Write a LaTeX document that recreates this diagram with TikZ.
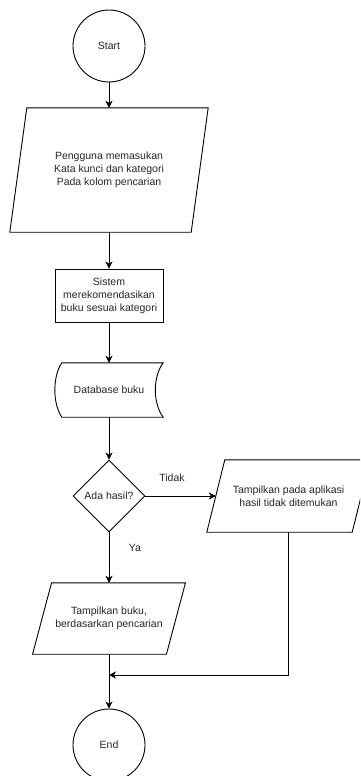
\documentclass[tikz,border=0pt]{standalone}
\usepackage{fontspec}
\setmainfont{Liberation Sans}
\usetikzlibrary{shapes.geometric,arrows.meta,calc}
\newcommand\paraoutline[2]{%
  \draw[line] ($(#1.north west)+(#2,0)$) -- ($(#1.north east)+(#2,0)$) -- ($(#1.south east)+(-#2,0)$) -- ($(#1.south west)+(-#2,0)$) -- cycle;}
\begin{document}
\begin{tikzpicture}[x=1pt,y=-1pt,
  every node/.style={font=\fontsize{10.5}{13}\selectfont, text=black!85},
  line/.style={draw=black, line width=0.9pt},
  arr/.style={line, -{Stealth[length=7pt,width=7pt,inset=2pt]}},
  term/.style={circle, line, minimum size=72pt, inner sep=0pt},
  area/.style={rectangle, inner sep=0pt, align=center},
  proc/.style={rectangle, line, inner sep=0pt, align=center, minimum width=108pt, minimum height=53pt},
  dec/.style={diamond, line, aspect=1, minimum size=72pt, inner sep=0pt},
  lbl/.style={inner sep=0pt}
]
\clip (0,0) rectangle (360,776);
\fill[white] (0,0) rectangle (360,776);

\node[term] (start) at (109,46) {Start};

\node[area, minimum width=181pt, minimum height=124pt] (input) at (109,170) {Pengguna memasukan\\Kata kunci dan kategori\\Pada kolom pencarian};
\paraoutline{input}{8.5}

\node[proc] (sys) at (109,295.5) {Sistem\\merekomendasikan\\buku sesuai kategori};

\node[area, minimum width=108pt, minimum height=54pt] (db) at (109,390) {Database buku};
\draw[line] ($(db.north west)+(7,0)$) -- (db.north east)
  .. controls ($(db.north east)+(-10.5,14)$) and ($(db.south east)+(-10.5,-14)$) .. (db.south east)
  -- ($(db.south west)+(7,0)$)
  .. controls ($(db.south west)+(-2.3,-14)$) and ($(db.north west)+(-2.3,14)$) .. ($(db.north west)+(7,0)$) -- cycle;

\node[dec] (dec) at (109,496) {Ada hasil?};

\node[area, minimum width=145pt, minimum height=72pt] (no) at (288.5,496) {Tampilkan pada aplikasi\\hasil tidak ditemukan};
\paraoutline{no}{9}

\node[area, minimum width=133.5pt, minimum height=71pt] (out) at (109,618.5) {Tampilkan buku,\\berdasarkan pencarian};
\paraoutline{out}{9.5}

\node[term] (end) at (109,745) {End};

\node[lbl] (tidak) at (172,478) {Tidak};
\node[lbl] (ya) at (135,548) {Ya};

\coordinate (merge) at (109,675);

\draw[arr] (start) -- (input.north);
\draw[arr] (input.south) -- (sys.north);
\draw[arr] (sys) -- (db.north);
\draw[arr] (db.south) -- (dec.north);
\draw[arr] (dec.east) -- (no.west);
\draw[arr] (dec.south) -- (out.north);
\draw[arr] (out.south) -- (end.north);
\draw[arr] (no.south) |- (merge);
\end{tikzpicture}
\end{document}
